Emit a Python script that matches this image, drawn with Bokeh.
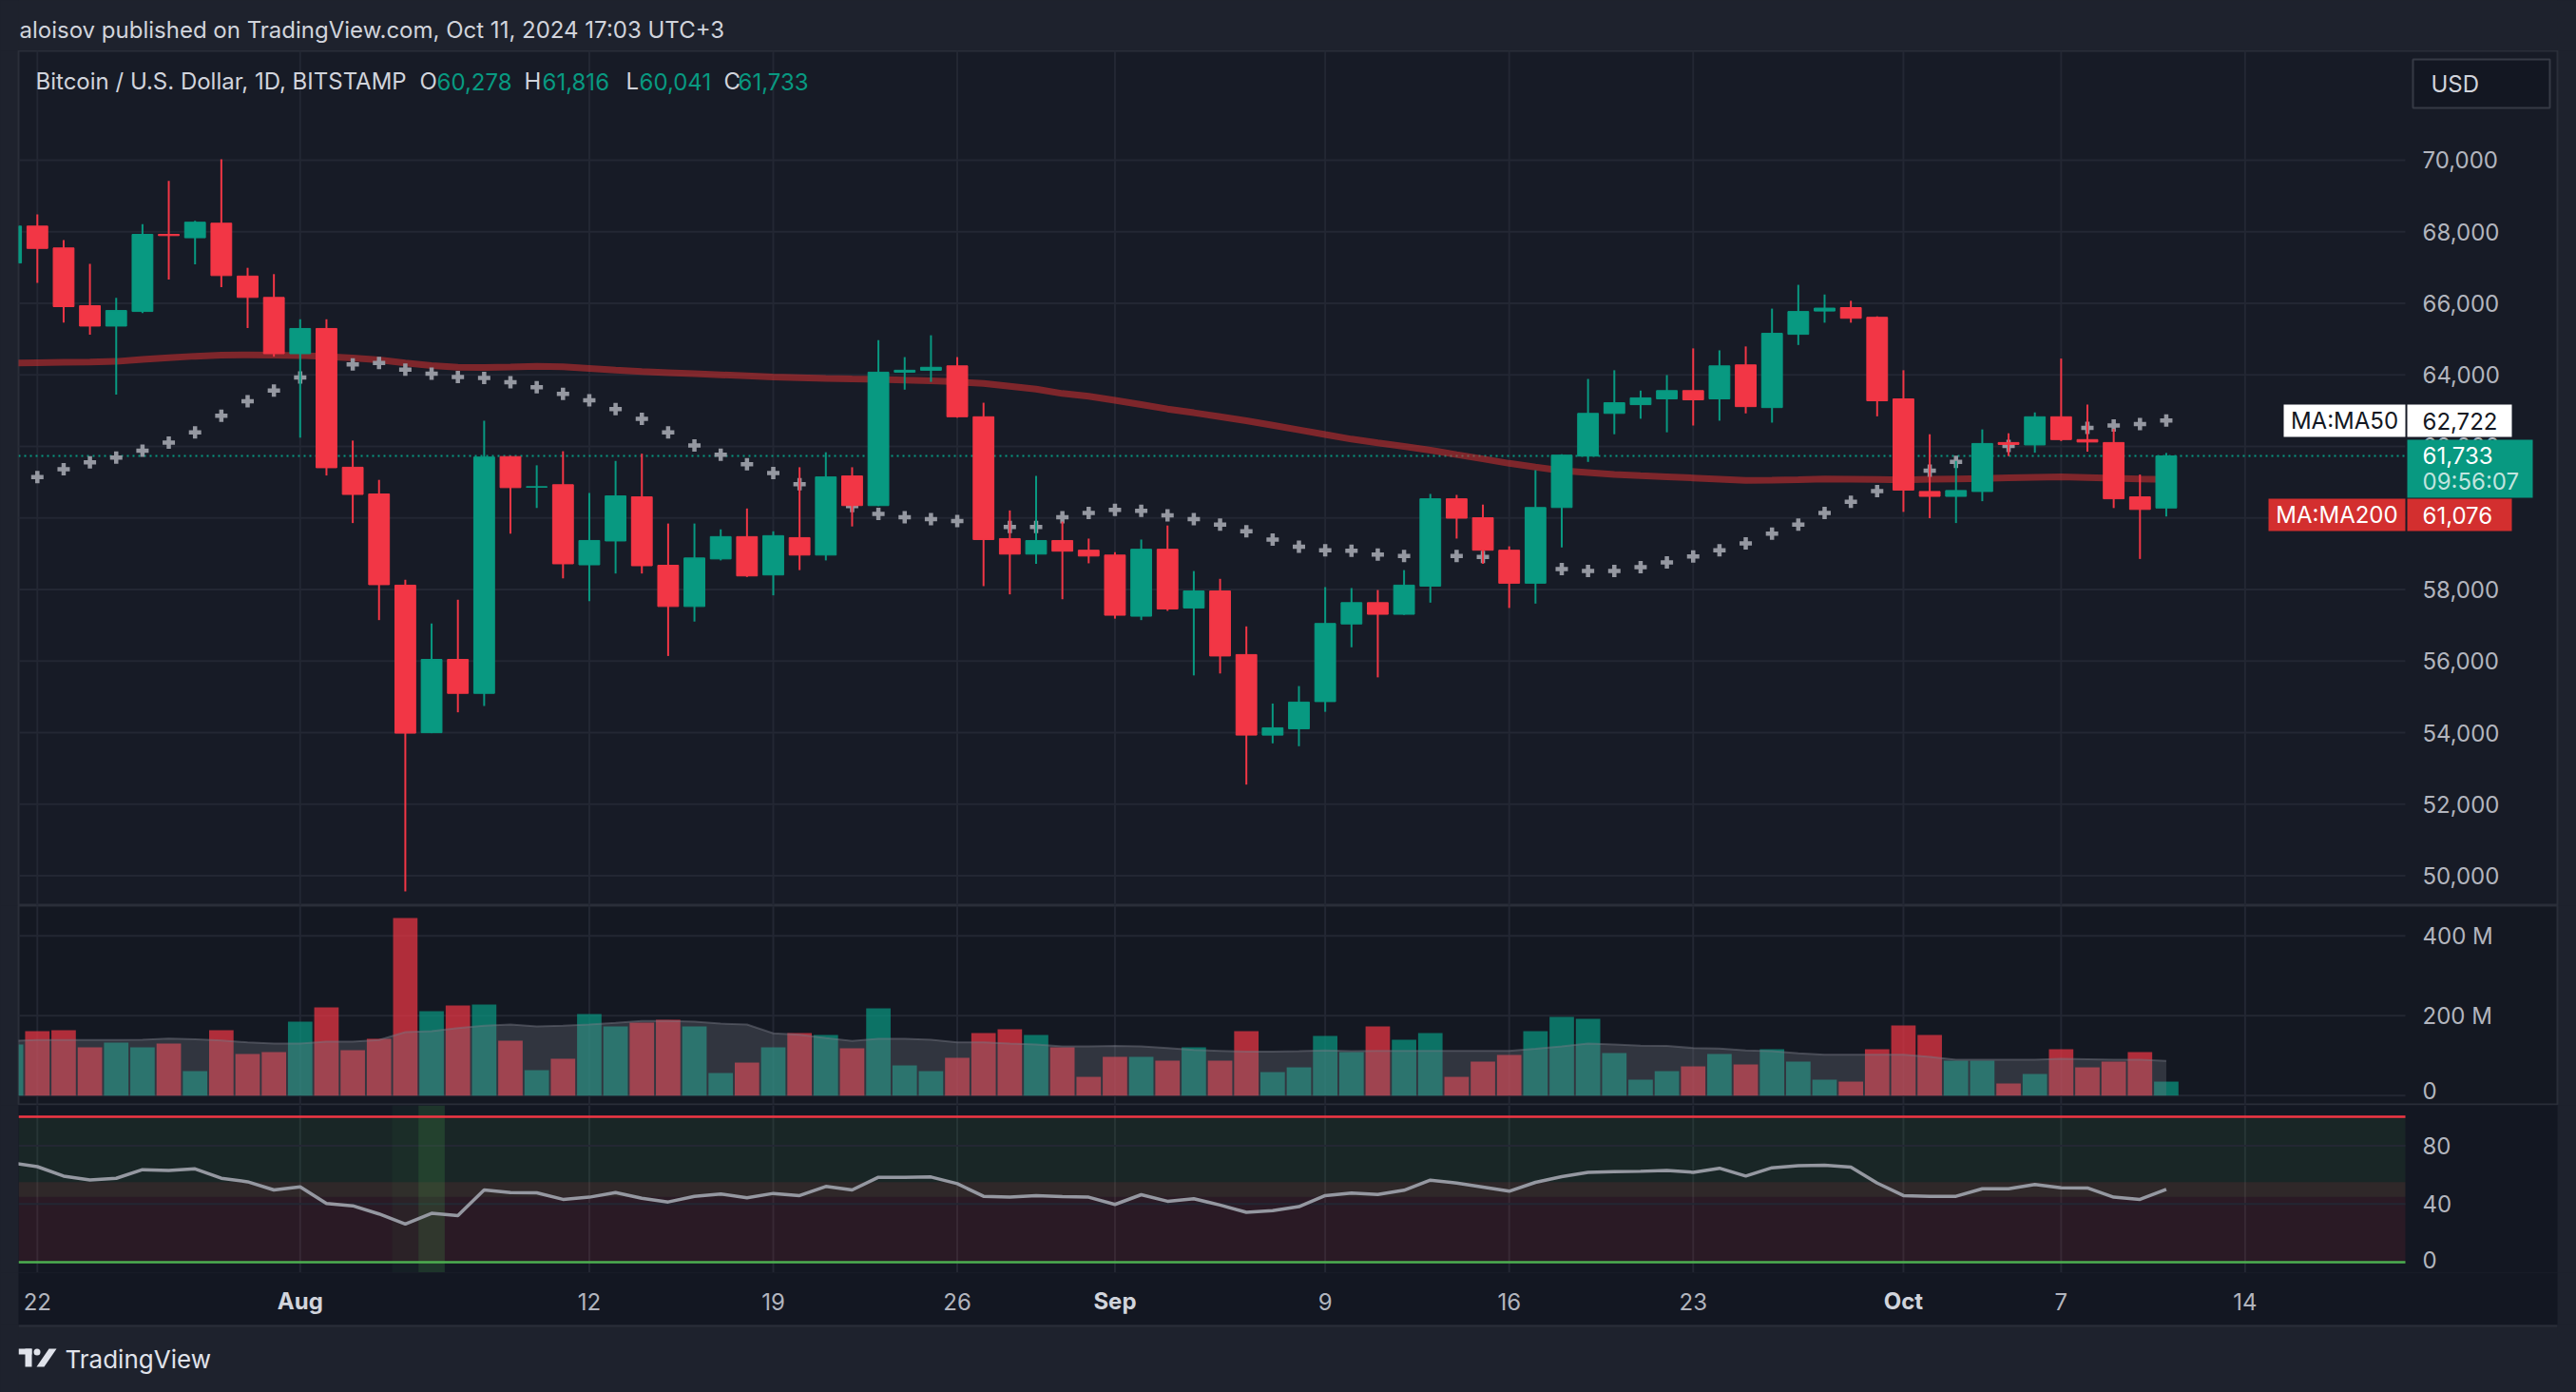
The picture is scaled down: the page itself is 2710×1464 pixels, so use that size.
import pandas as pd
from bokeh.plotting import figure
from bokeh.layouts import column
from bokeh.models import Range1d, ColumnDataSource
from bokeh.core.properties import value
from bokeh.embed import file_html
from bokeh.resources import INLINE

# ---------------- data ----------------
first_day = "2024-07-21"
last_day = "2024-10-11"

opens = [67125, 68156, 67546, 65932, 65362, 65770, 67925, 67830, 68237, 66760, 66163,
         64590, 65295, 61417, 60670, 58121, 53998, 56046, 55097, 61715, 60860, 60928, 58690, 59356, 60589, 58677,
         57525, 58854, 59478, 58406, 59450, 58962, 61173, 60345, 64074, 64128, 64250, 62827, 59423, 58989, 59369, 59098,
         58962, 57254, 59125, 57484, 57959, 56182, 53931, 54108, 54867, 57037, 57633, 57308, 58095, 60535, 60006,
         59098, 58176, 60291, 61728, 62922, 63166, 63328, 63559, 63328, 64277, 63084, 65132, 65783, 65878, 65607,
         63328, 60739, 60603, 60739, 62108, 62040, 62827, 62190, 62108, 60589, 60278]
highs = [68380, 68481, 67763, 67098, 66150, 68210, 69417, 68305, 70027, 66990, 66814,
         65552, 65552, 62162, 61064, 58270, 57050, 57714, 62718, 61730, 61471, 61864, 60698, 61593, 61796, 59844,
         59844, 59681, 60264, 59627, 61417, 61836, 61417, 64969, 64495, 65105, 64495, 63220, 60210, 61173, 59898, 59423,
         59043, 59396, 59789, 58515, 58298, 56969, 54813, 55301, 58067, 58040, 57986, 58542, 60671, 60644, 60373,
         59206, 61335, 61783, 63884, 64128, 63559, 63993, 64739, 64684, 64793, 65850, 66515, 66244, 66068, 65634,
         64128, 62339, 61593, 62474, 62366, 62949, 64454, 63166, 62488, 61213, 61816]
lows = [66750, 66569, 65457, 65118, 63450, 65728, 66664, 67085, 66447, 65308, 64508,
        62244, 61186, 59857, 57145, 49565, 53985, 54568, 54745, 59558, 60278, 58311, 57674, 58447, 58447, 56142,
        57104, 58813, 58350, 57837, 58542, 58813, 59762, 60330, 63586, 63803, 62800, 58094, 57864, 58718, 57728, 58732,
        57186, 57145, 57403, 55599, 55653, 52548, 53701, 53620, 54582, 56386, 55545, 57290, 57633, 59423, 58718,
        57484, 57606, 59179, 61566, 62339, 62773, 62393, 62583, 62718, 62922, 62664, 64834, 65457, 65457, 62840,
        60169, 59993, 59857, 60468, 61729, 61823, 62149, 61850, 60277, 58854, 60041]
closes = [68156, 67532, 65905, 65362, 65796, 67925, 67890, 68265, 66773, 66163, 64590,
          65295, 61403, 60657, 58135, 53985, 56046, 55097, 61702, 60847, 60874, 58718, 59370, 60616, 58664, 57525,
          58881, 59478, 58379, 59505, 58962, 61146, 60345, 64074, 64128, 64210, 62827, 59396, 58989, 59369, 59071, 58935,
          57281, 59125, 57457, 57959, 56142, 53931, 54135, 54854, 57050, 57633, 57308, 58122, 60535, 59993, 59098,
          58176, 60291, 61755, 62922, 63220, 63356, 63559, 63301, 64250, 63111, 65159, 65769, 65864, 65580, 63274,
          60779, 60603, 60766, 62081, 62054, 62827, 62190, 62122, 60535, 60237, 61733]
volume_m = [127.8, 161.1, 163.5, 120.6, 132.5, 120.6, 130.2, 61.1, 163.5, 104.0, 108.7,
            184.9, 220.6, 113.5, 142.1, 444.5, 211.1, 225.4, 227.8, 137.3, 63.5, 92.1, 204.0, 173.0, 182.5, 189.7,
            173.0, 56.4, 82.5, 120.6, 156.4, 151.6, 118.3, 218.3, 75.4, 61.1, 94.4, 156.4, 165.9, 151.6, 120.6, 46.8,
            96.8, 96.8, 87.3, 120.6, 87.3, 161.1, 58.7, 70.6, 149.2, 108.7, 173.0, 139.7, 156.4, 46.8, 84.9,
            101.6, 161.1, 196.8, 192.1, 106.4, 39.7, 61.1, 73.0, 104.0, 77.8, 115.9, 84.9, 39.7, 34.9, 115.9,
            175.4, 151.6, 87.3, 87.3, 30.2, 54.0, 115.9, 70.6, 84.9, 108.7, 34.9]
volume_ma_m = [137, 139, 139, 139, 139, 140, 143, 141, 138, 133, 130,
               130, 135, 135, 139, 159, 161, 169, 175, 178, 173, 175, 178, 182, 187, 187,
               185, 180, 178, 156, 152, 144, 137, 142, 142, 140, 133, 133, 130, 128, 123, 123,
               124, 123, 119, 114, 112, 110, 110, 111, 113, 111, 112, 112, 112, 112, 112,
               112, 117, 123, 130, 128, 125, 124, 119, 118, 113, 111, 106, 102, 102, 102,
               102, 97, 90, 90, 90, 90, 92, 91, 90, 90, 87]
ma50 = [60950, 61145, 61362, 61552, 61688, 61878, 62108, 62393, 62854, 63260, 63559,
        63925, 64150, 64291, 64332, 64142, 64034, 63939, 63912, 63790, 63654, 63464, 63287, 63043, 62772, 62393,
        62027, 61769, 61498, 61254, 60942, 60640, 60332, 60115, 60020, 59966, 59911, 59830, 59749, 59749, 60020, 60142,
        60223, 60196, 60074, 59966, 59816, 59627, 59396, 59193, 59098, 59084, 58976, 58935, 58935, 58935, 58908,
        58800, 58680, 58569, 58515, 58515, 58623, 58759, 58922, 59098, 59288, 59559, 59816, 60142, 60454, 60752,
        61040, 61322, 61566, 61790, 62013, 62270, 62380, 62515, 62583, 62624, 62722]
ma200 = [64330, 64340, 64350, 64360, 64374, 64430, 64480, 64520, 64550, 64555, 64550,
         64540, 64510, 64470, 64415, 64330, 64260, 64211, 64205, 64220, 64238, 64225, 64180, 64130, 64090, 64060,
         64030, 64000, 63970, 63940, 63920, 63900, 63885, 63871, 63850, 63830, 63803, 63760, 63680, 63600, 63478, 63400,
         63288, 63170, 63044, 62940, 62830, 62718, 62590, 62460, 62330, 62203, 62100, 62000, 61891, 61770, 61650,
         61525, 61420, 61322, 61270, 61213, 61180, 61150, 61118, 61085, 61050, 61055, 61070, 61091, 61085, 61075,
         61064, 61080, 61090, 61100, 61120, 61135, 61146, 61130, 61110, 61090, 61076]
rsi = [68.3, 65.7, 59.2, 56.6, 57.7, 63.6, 63.1, 64.2, 57.7, 55.3, 49.7,
       51.8, 40.3, 38.8, 33.2, 26.2, 33.6, 32.1, 49.7, 47.9, 47.7, 43.2, 44.7, 47.9, 44.0, 41.4,
       45.3, 46.9, 44.3, 47.3, 45.8, 52.1, 49.7, 58.4, 58.4, 58.6, 54.0, 45.3, 44.7, 45.8, 45.1, 44.7,
       39.7, 46.4, 41.9, 43.6, 39.3, 34.3, 35.4, 38.2, 45.8, 47.5, 46.6, 49.5, 56.4, 54.4, 51.6,
       48.8, 54.9, 58.8, 61.8, 62.3, 62.5, 63.1, 61.8, 64.6, 59.2, 64.9, 66.4, 66.6, 65.3, 54.4,
       45.8, 45.3, 45.3, 50.5, 50.5, 53.4, 51.2, 51.0, 44.7, 43.2, 50.1]

price_ticks = [50000, 52000, 54000, 56000, 58000, 60000, 62000, 64000, 66000, 68000, 70000]
volume_ticks = [0, 200, 400]
volume_tick_labels = ["0", "200 M", "400 M"]
rsi_ticks = [0, 40, 80]
rsi_tick_labels = ["0", "40", "80"]
rsi_green_band = [45, 100]
rsi_red_band = [0, 55]
rsi_top_level = 100
rsi_bottom_level = 0
date_ticks = ["2024-07-22", "2024-08-01", "2024-08-12", "2024-08-19", "2024-08-26", "2024-09-01",
              "2024-09-09", "2024-09-16", "2024-09-23", "2024-10-01", "2024-10-07", "2024-10-14"]
date_tick_labels = ["22", "Aug", "12", "19", "26", "Sep", "9", "16", "23", "Oct", "7", "14"]
month_names = ["Aug", "Sep", "Oct"]
highlight_days = ["2024-08-05", "2024-08-06"]
highlight_alpha = [0.06, 0.2]

publish_note = "aloisov published on TradingView.com, Oct 11, 2024 17:03 UTC+3"
symbol_title = "Bitcoin / U.S. Dollar, 1D, BITSTAMP"
countdown = "09:56:07"
currency = "USD"

# ---------------- styling / layout (pixel geometry of the reference) ----------------
UP, DOWN = "#089981", "#f23645"
GRID = "#232733"
AXIS_TXT = "#b2b5be"
LIGHT_TXT = "#d1d4dc"
OUTER = "#1e222d"
FONT = value("Inter")
W = 2710
LEFT_PX, SPLIT_PX, RIGHT_PX = 19, 2530, 2690
X0_PX, DAY_PX = 38.8, 27.65
LABEL_PX = 2548


def dx(px):
    return (px - X0_PX) / DAY_PX


def py(px):  # main pane pixel -> price
    return 70000 - (px - 167.9) / 0.037633


def vy(px):  # volume pane pixel -> volume (M)
    return (1151.7 - px) / 0.42


def ry(px):  # rsi pane pixel -> rsi
    return (1327 - px) / 1.53


xr = Range1d(dx(LEFT_PX), dx(RIGHT_PX))

dates = pd.date_range(first_day, last_day, freq="D")
ref = pd.Timestamp("2024-07-22")
day = [(t - ref).days for t in dates]
colors = [UP if c >= o else DOWN for o, c in zip(opens, closes)]
src = ColumnDataSource(dict(
    day=day, o=opens, h=highs, l=lows, c=closes,
    top=[max(o, c) for o, c in zip(opens, closes)],
    bot=[min(o, c) for o, c in zip(opens, closes)],
    color=colors, vol=volume_m, volma=volume_ma_m,
    ma50=ma50, ma200=ma200, rsi=rsi))
tick_days = [(pd.Timestamp(t) - ref).days for t in date_ticks]


def pane(height, yr, bg, outline=True):
    f = figure(width=W, height=height, x_range=xr, y_range=yr, output_backend="svg",
               toolbar_location=None, x_axis_location=None, y_axis_location=None,
               min_border=0, min_border_left=LEFT_PX, min_border_right=W - RIGHT_PX,
               background_fill_color=bg, border_fill_color=OUTER,
               outline_line_color="#2a2e39" if outline else None, outline_line_width=2)
    f.grid.grid_line_color = None
    return f


def txt(f, x, y, s, color, size="24px", align="left", baseline="middle", style="normal", alpha=1.0):
    f.text(x=[x], y=[y], text=[s], text_color=color, text_font=FONT, text_font_size=value(size),
           text_align=align, text_baseline=baseline, text_font_style=style, text_alpha=alpha)


def vgrid(f, yr):
    n = len(tick_days)
    f.segment(x0=tick_days, x1=tick_days, y0=[yr.start] * n, y1=[yr.end] * n,
              line_color=GRID, line_width=2)


def hgrid(f, ticks):
    n = len(ticks)
    f.segment(x0=[dx(LEFT_PX)] * n, x1=[dx(SPLIT_PX)] * n, y0=ticks, y1=ticks,
              line_color=GRID, line_width=2)


def plain(height):
    # page-pixel coordinates (x from page left, y from the strip's bottom)
    f = figure(width=W, height=height, x_range=Range1d(LEFT_PX, RIGHT_PX), y_range=Range1d(0, height),
               output_backend="svg", toolbar_location=None, x_axis_location=None,
               y_axis_location=None, min_border=0, min_border_left=LEFT_PX,
               min_border_right=W - RIGHT_PX, background_fill_color=OUTER,
               border_fill_color=OUTER, outline_line_color=None)
    f.grid.grid_line_color = None
    return f


# ---------------- header ----------------
header = plain(53)
txt(header, 20, 53 - 31, publish_note, LIGHT_TXT)

# ---------------- main price pane ----------------
myr = Range1d(py(952), py(53))
main = pane(899, myr, "#171b26")
vgrid(main, myr)
hgrid(main, price_ticks)
main.segment(x0=[dx(LEFT_PX)], x1=[dx(SPLIT_PX)], y0=[closes[-1]], y1=[closes[-1]],
             line_color=UP, line_width=2, line_dash="2 4")
main.line("day", "ma200", source=src, line_color="#d32f2f", line_alpha=0.55, line_width=7)
main.scatter("day", "ma50", source=src, marker="cross", size=13, line_width=4.5, line_color="#9598a1")
main.segment(x0="day", y0="l", x1="day", y1="h", source=src, line_color="color", line_width=2)
main.vbar(x="day", width=0.79, top="top", bottom="bot", source=src,
          fill_color="color", line_color="color", line_width=1)

# legend line
lb = py(85)
txt(main, dx(37), lb, symbol_title, LIGHT_TXT)
for lx, letter, vx, val in [(441, "O", 459, opens[-1]), (551, "H", 570, highs[-1]),
                            (658, "L", 672, lows[-1]), (761, "C", 776, closes[-1])]:
    txt(main, dx(lx), lb, letter, LIGHT_TXT)
    txt(main, dx(vx), lb, f"{val:,}", UP)

# price axis labels
main.text(x=[dx(LABEL_PX)] * len(price_ticks), y=price_ticks, text=[f"{t:,}" for t in price_ticks],
          text_color=AXIS_TXT, text_font=FONT, text_font_size=value("24px"),
          text_align="left", text_baseline="middle")

# currency box
main.quad(left=[dx(2538)], right=[dx(2682)], top=[py(62)], bottom=[py(113)],
          fill_color="#131722", line_color="#363a45", line_width=2)
txt(main, dx(2557), py(88), currency, LIGHT_TXT)

# price tags
main.quad(left=[dx(2402), dx(2532)], right=[dx(SPLIT_PX), dx(2642)], top=[py(425)] * 2,
          bottom=[py(459)] * 2, fill_color="#ffffff", line_color=None)
txt(main, dx(2466), py(442), "MA:MA50", "#131722", align="center")
txt(main, dx(LABEL_PX), py(442), f"{ma50[-1]:,}", "#131722")
main.quad(left=[dx(2532)], right=[dx(2664)], top=[py(462)], bottom=[py(523)],
          fill_color=UP, line_color=None)
txt(main, dx(LABEL_PX), py(478), f"{closes[-1]:,}", "#ffffff")
txt(main, dx(LABEL_PX), py(506), countdown, "#ffffff", alpha=0.75)
main.quad(left=[dx(2386), dx(2532)], right=[dx(SPLIT_PX), dx(2642)], top=[py(524)] * 2,
          bottom=[py(558)] * 2, fill_color="#d32f2f", line_color=None)
txt(main, dx(2458), py(541), "MA:MA200", "#ffffff", align="center")
txt(main, dx(LABEL_PX), py(541), f"{ma200[-1]:,}", "#ffffff")

# ---------------- volume pane ----------------
vyr = Range1d(vy(1162), vy(952))
vol = pane(210, vyr, "#141822")
vgrid(vol, vyr)
hgrid(vol, volume_ticks)
vol.vbar(x="day", width=0.93, top="vol", bottom=0, source=src,
         fill_color="color", fill_alpha=0.7, line_color=None)
vol.varea(x="day", y1=0, y2="volma", source=src, fill_color="#787b86", fill_alpha=0.3)
vol.line("day", "volma", source=src, line_color="#787b86", line_alpha=0.45, line_width=2)
vol.text(x=[dx(LABEL_PX)] * 3, y=volume_ticks, text=volume_tick_labels, text_color=AXIS_TXT,
         text_font=FONT, text_font_size=value("24px"), text_align="left", text_baseline="middle",
         y_offset=[-5, 0, 0])

# ---------------- RSI pane ----------------
ryr = Range1d(ry(1338), ry(1162))
rp = pane(176, ryr, "#131722", outline=False)
vgrid(rp, ryr)
rp.quad(left=[dx(LEFT_PX)], right=[dx(SPLIT_PX)], bottom=[rsi_green_band[0]], top=[rsi_green_band[1]],
        fill_color="#4caf50", fill_alpha=0.1, line_color=None)
rp.quad(left=[dx(LEFT_PX)], right=[dx(SPLIT_PX)], bottom=[rsi_red_band[0]], top=[rsi_red_band[1]],
        fill_color=DOWN, fill_alpha=0.1, line_color=None)
hgrid(rp, [40, 80])
hl_days = [(pd.Timestamp(t) - ref).days for t in highlight_days]
rp.quad(left=[h - 0.5 for h in hl_days], right=[h + 0.5 for h in hl_days],
        bottom=[ryr.start] * 2, top=[ryr.end] * 2, fill_color="#4caf50",
        fill_alpha=highlight_alpha, line_color=None)
rp.segment(x0=[dx(LEFT_PX)], x1=[dx(SPLIT_PX)], y0=[rsi_top_level], y1=[rsi_top_level],
           line_color=DOWN, line_width=2.5)
rp.segment(x0=[dx(LEFT_PX)], x1=[dx(SPLIT_PX)], y0=[rsi_bottom_level], y1=[rsi_bottom_level],
           line_color="#4caf50", line_width=2.5)
rp.line("day", "rsi", source=src, line_color="#9598a1", line_width=3.5)
rp.text(x=[dx(LABEL_PX)] * 3, y=rsi_ticks, text=rsi_tick_labels, text_color=AXIS_TXT,
        text_font=FONT, text_font_size=value("24px"), text_align="left", text_baseline="middle",
        y_offset=[-3, 0, 0])

# ---------------- time axis ----------------
xa = pane(55, Range1d(0, 1), "#131722", outline=False)
num_idx = [i for i, s in enumerate(date_tick_labels) if s not in month_names]
mon_idx = [i for i, s in enumerate(date_tick_labels) if s in month_names]
xa.text(x=[tick_days[i] for i in num_idx], y=[0.45] * len(num_idx),
        text=[date_tick_labels[i] for i in num_idx], text_color=AXIS_TXT, text_font=FONT,
        text_font_size=value("24px"), text_align="center", text_baseline="middle")
xa.text(x=[tick_days[i] for i in mon_idx], y=[0.45] * len(mon_idx),
        text=[date_tick_labels[i] for i in mon_idx], text_color=LIGHT_TXT, text_font=FONT,
        text_font_size=value("24px"), text_align="center", text_baseline="middle",
        text_font_style="bold")

# ---------------- footer ----------------
footer = plain(71)
footer.segment(x0=[LEFT_PX], x1=[RIGHT_PX], y0=[70], y1=[70], line_color="#2a2e39", line_width=2)
LOGO = "#e0e3eb"
footer.quad(left=[19, 26], right=[33, 33], top=[46, 46], bottom=[40, 27], fill_color=LOGO, line_color=None)
footer.scatter(x=[38.5], y=[42.5], marker="circle", size=7, fill_color=LOGO, line_color=None)
footer.patch(x=[38, 46, 59, 51], y=[27, 27, 46, 46], fill_color=LOGO, line_color=None)
txt(footer, 68, 35, "TradingView", LOGO, size="26px")

layout = column(header, main, vol, rp, xa, footer, spacing=0)

html = file_html(layout, INLINE)
html = html.replace("</head>",
                    "<style>html,body{background:#1e222d;margin:0 !important;padding:0;overflow:hidden;}</style>\n</head>",
                    1)
open("out.html", "w").write(html)
